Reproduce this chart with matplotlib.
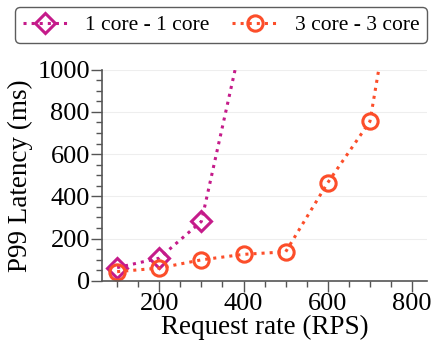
import matplotlib
matplotlib.use("Agg")
import matplotlib.pyplot as plt
from matplotlib.ticker import MultipleLocator

plt.rcParams['font.family'] = ['Liberation Serif', 'DejaVu Serif']

rps_1 = [100, 200, 300, 400]
lat_1 = [62, 107, 281, 1180]
rps_3 = [100, 200, 300, 400, 500, 600, 700, 800]
lat_3 = [43, 60, 99, 125, 137, 465, 755, 1930]

fig = plt.figure(figsize=(4.32, 3.47), dpi=100)
ax = fig.add_axes([0.237, 0.191, 0.751, 0.608])

ax.plot(rps_1, lat_1, linestyle=':', lw=2.2, color='#c51b8a', marker='D',
        markersize=10, markerfacecolor='none', markeredgewidth=2.2,
        label='1 core - 1 core')
ax.plot(rps_3, lat_3, linestyle=':', lw=2.2, color='#fc4e2a', marker='o',
        markersize=11, markerfacecolor='none', markeredgewidth=2.2,
        label='3 core - 3 core')

ax.set_ylim(0, 1000)
ax.set_xlim(65, 835)
ax.xaxis.set_major_locator(MultipleLocator(200))
ax.xaxis.set_minor_locator(MultipleLocator(50))
ax.yaxis.set_major_locator(MultipleLocator(200))
ax.yaxis.set_minor_locator(MultipleLocator(50))
ax.grid(axis='y', color='#eeeeee', lw=0.8)
ax.set_axisbelow(True)

for s in ['top', 'right']:
    ax.spines[s].set_visible(False)
for s in ['left', 'bottom']:
    ax.spines[s].set_color('#555555')
    ax.spines[s].set_linewidth(1.2)

ax.tick_params(which='major', length=8, width=1, color='#555555', labelsize=19, pad=1)
ax.tick_params(which='minor', length=4, width=1, color='#555555')

ax.set_xlabel('Request rate (RPS)', fontsize=19.5, labelpad=0)
ax.set_ylabel('P99 Latency (ms)', fontsize=19.5, labelpad=3)

leg = fig.legend(loc='center', bbox_to_anchor=(221 / 432, 1 - 25 / 347), ncol=2,
                 fontsize=15.5, frameon=True, fancybox=True, edgecolor='#333333',
                 handlelength=2.1, handletextpad=0.8, columnspacing=1.05,
                 borderpad=0.35, borderaxespad=0.3)
leg.get_frame().set_linewidth(1.0)

fig.savefig('out.png', dpi=100)
